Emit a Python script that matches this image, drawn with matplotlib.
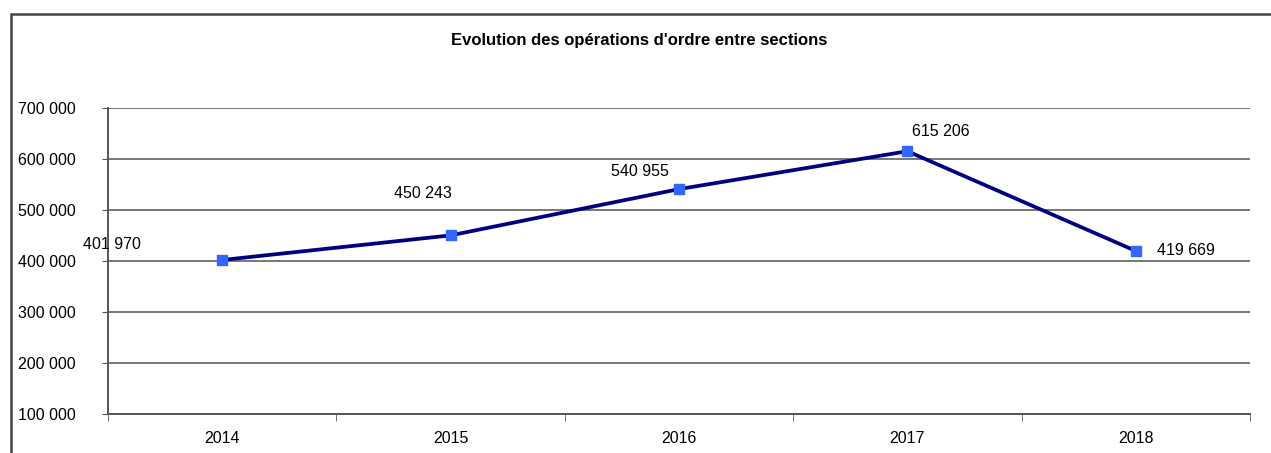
import matplotlib
matplotlib.use("Agg")
import matplotlib.pyplot as plt
from matplotlib.patches import Rectangle
from matplotlib.ticker import FuncFormatter

years = ["2014", "2015", "2016", "2017", "2018"]
values = [401970, 450243, 540955, 615206, 419669]
value_labels = ["401 970", "450 243", "540 955", "615 206", "419 669"]
yticks = [100000, 200000, 300000, 400000, 500000, 600000, 700000]
title = "Evolution des opérations d'ordre entre sections"

# label offsets in pixels (dx, dy) relative to the data point
label_offsets = [(-110, 15), (-28, 42), (-39, 18), (33, 20), (50, 0)]

plt.rcParams['font.family'] = ['Liberation Sans', 'DejaVu Sans']

fig = plt.figure(figsize=(12.71, 4.53), dpi=100)
fig.patch.set_facecolor("white")

# outer frame
fig.patches.append(Rectangle((11/1271, -0.2), 1.2, 0.2 + (1 - 14/453),
                             transform=fig.transFigure, fill=False,
                             edgecolor="#444444", linewidth=1.8))

ax = fig.add_axes([108/1271, 1 - 414/453, (1250 - 108)/1271, (414 - 108)/453])
x = list(range(len(years)))
ax.plot(x, values, color="#000080", linewidth=2.7, marker="s", markersize=7.5,
        markerfacecolor="#3366FF", markeredgecolor="#3366FF", zorder=3)

for xi, v, lab, off in zip(x, values, value_labels, label_offsets):
    ax.annotate(lab, (xi, v), xytext=off, textcoords="offset pixels",
                ha="center", va="center", fontsize=11.5, color="black")

ax.set_xlim(-0.5, len(years) - 0.5)
ax.set_ylim(100000, 700000)
ax.set_yticks(yticks)
ax.yaxis.set_major_formatter(FuncFormatter(lambda v, p: f"{int(v):,}".replace(",", " ")))
ax.set_xticks(x)
ax.set_xticklabels(years)
ax.set_xticks([i + 0.5 for i in range(-1, len(years))], minor=True)
ax.tick_params(axis="x", which="major", length=0, pad=12, labelsize=11.5)
ax.tick_params(axis="x", which="minor", length=5, color="#555555", direction="out")
ax.tick_params(axis="y", length=4, color="#555555", labelsize=11.5, pad=19)

ax.grid(axis="y", color="#777777", linewidth=1.4)
ax.set_axisbelow(True)
for s in ["top", "right"]:
    ax.spines[s].set_visible(False)
ax.spines["left"].set_color("#555555")
ax.spines["left"].set_linewidth(1.4)
ax.spines["bottom"].set_color("#555555")
ax.spines["bottom"].set_linewidth(1.4)

fig.text(0.503, 1 - 41/453, title, ha="center", va="center",
         fontsize=12, fontweight="bold")

fig.savefig("out.png", dpi=100, facecolor="white")
